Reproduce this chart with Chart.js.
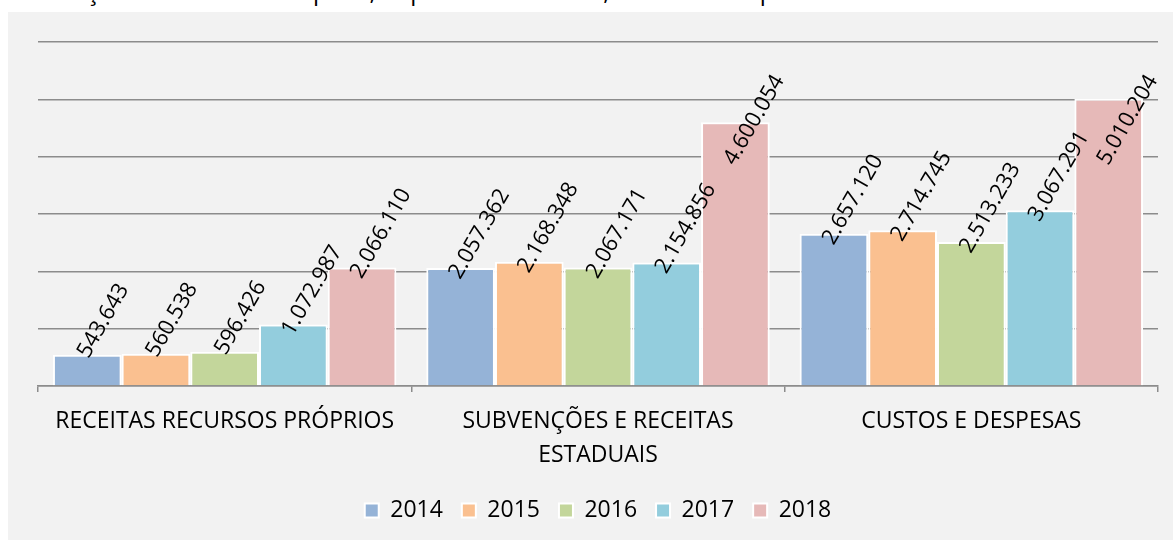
<!DOCTYPE html>
<html>
<head>
<meta charset="utf-8">
<script src="https://cdn.jsdelivr.net/npm/chart.js@4/dist/chart.umd.min.js"></script>
<style>
  body { margin:0; background:#fff; width:1173px; height:540px; overflow:hidden; position:relative; font-family:"Open Sans", "Noto Sans", sans-serif; }
  #ttl { position:absolute; left:26px; top:-21px; font-size:24px; line-height:24px; color:#000; white-space:nowrap; }
  #box { position:absolute; left:8px; top:12px; width:1165px; height:528px; background:#f2f2f2; }
</style>
</head>
<body>
<div id="ttl">Evolução de Recursos Próprios, Repasses do Estado, Custos e Despesas</div>
<div id="box"><canvas id="cv" width="1165" height="528"></canvas></div>
<script>
var categorias = [
  'RECEITAS RECURSOS PRÓPRIOS',
  ['SUBVENÇÕES E RECEITAS', 'ESTADUAIS'],
  'CUSTOS E DESPESAS'
];
var anos = ['2014', '2015', '2016', '2017', '2018'];
var v2014 = [543643, 2057362, 2657120];
var v2015 = [560538, 2168348, 2714745];
var v2016 = [596426, 2067171, 2513233];
var v2017 = [1072987, 2154856, 3067291];
var v2018 = [2066110, 4600054, 5010204];
var cores = ['#95b3d7', '#fac090', '#c3d69b', '#93cddd', '#e6b9b8'];

var series = [v2014, v2015, v2016, v2017, v2018];
var fonte = '"Open Sans", "Noto Sans", sans-serif';

function fmt(n) {
  return String(n).replace(/\B(?=(\d{3})+(?!\d))/g, '.');
}

// rotulos inclinados em cima das barras
var rotulos = {
  id: 'rotulos',
  afterDatasetsDraw: function(chart) {
    var ctx = chart.ctx;
    var ang = 60 * Math.PI / 180;
    ctx.save();
    ctx.font = '22px ' + fonte;
    ctx.fillStyle = '#000';
    ctx.textAlign = 'center';
    ctx.textBaseline = 'middle';
    chart.data.datasets.forEach(function(ds, i) {
      chart.getDatasetMeta(i).data.forEach(function(bar, j) {
        var txt = fmt(ds.data[j]);
        var w = ctx.measureText(txt).width;
        var cx = bar.x + 0.16 * w + 3;
        var cy = bar.y - 34;
        var minY = chart.chartArea.top + 78;
        if (cy < minY) cy = minY;
        ctx.save();
        ctx.translate(cx, cy);
        ctx.rotate(-ang);
        ctx.fillText(txt, 0, 0);
        ctx.restore();
      });
    });
    ctx.restore();
  }
};

new Chart(document.getElementById('cv'), {
  type: 'bar',
  data: {
    labels: categorias,
    datasets: series.map(function(s, i) {
      return {
        label: anos[i],
        data: s,
        backgroundColor: cores[i],
        borderColor: '#ffffff',
        borderWidth: 2,
        categoryPercentage: 0.92,
        barPercentage: 1.0
      };
    })
  },
  options: {
    responsive: false,
    animation: false,
    layout: { padding: { left: 30, right: 15, top: 30, bottom: 8 } },
    plugins: {
      title: { display: false },
      tooltip: { enabled: false },
      legend: {
        position: 'bottom',
        labels: {
          color: '#000',
          font: { size: 23, family: fonte },
          boxWidth: 14,
          boxHeight: 14,
          padding: 19
        }
      }
    },
    scales: {
      x: {
        afterFit: function(scale) { scale.height = 94; },
        grid: { display: true, drawOnChartArea: false, drawTicks: true, tickLength: 6, color: '#8c8c8c', lineWidth: 1.5 },
        border: { display: true, color: '#8c8c8c', width: 1.5 },
        ticks: {
          color: '#000',
          padding: 12,
          maxRotation: 0,
          font: { size: 23, family: fonte, lineHeight: 1.48 }
        }
      },
      y: {
        min: 0,
        max: 6000000,
        ticks: { display: false, stepSize: 1000000 },
        border: { display: false },
        grid: { color: '#8c8c8c', lineWidth: 1.5, drawTicks: false }
      }
    }
  },
  plugins: [rotulos]
});
</script>
</body>
</html>
